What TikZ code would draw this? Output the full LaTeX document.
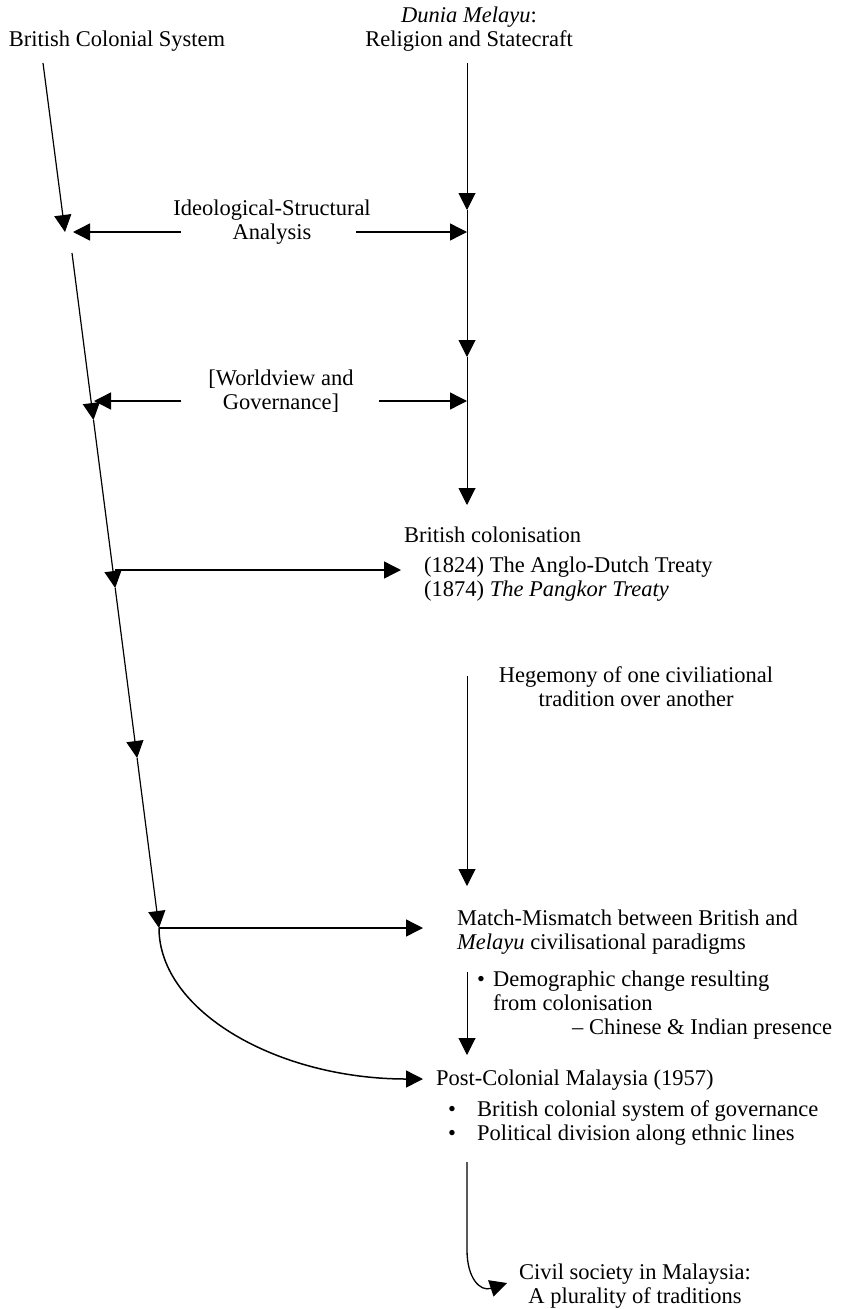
\documentclass[tikz,border=0pt]{standalone}
\usepackage{fontspec}
\setmainfont{Liberation Serif}
\usetikzlibrary{arrows.meta,calc}
\begin{document}
\begin{tikzpicture}[x=1pt,y=-1pt,
  txt/.style={inner sep=0pt, font=\fontsize{22.5}{24}\selectfont},
  arr/.style={-{Triangle[length=17pt,width=17pt]}, line width=1.2pt},
  harr/.style={arr, line width=1.4pt},
  varr/.style={arr, line width=1pt}]
\useasboundingbox (0,0) rectangle (845,1309);

% text nodes (for multi-line nodes the base anchor is the last line's baseline)
\node[txt, anchor=base] (bcs) at (117,46.5) {British Colonial System};
\node[txt, anchor=base, align=center] (dm) at (469,46.5) {\textit{Dunia Melayu}:\\Religion and Statecraft};
\node[txt, anchor=base, align=center] (isa) at (272,239.5) {Ideological-Structural\\Analysis};
\node[txt, anchor=base, align=center] (wg) at (281,409.5) {[Worldview and\\Governance]};
\node[txt, anchor=base west] (bc) at (404,542.5) {British colonisation};
\node[txt, anchor=base west, align=left] (tr) at (424,596) {(1824) The Anglo-Dutch Treaty\\(1874) \textit{The Pangkor Treaty}};
\node[txt, anchor=base, align=center] (heg) at (636,706.5) {Hegemony of one civiliational\\tradition over another};
\node[txt, anchor=base west, align=left] (mm) at (457,949.5) {Match-Mismatch between British and\\\textit{Melayu} civilisational paradigms};
\node[txt, anchor=base west, align=left] (dem) at (477,1034.5) {\makebox[16pt][l]{•}Demographic change resulting\\\hspace*{16pt}from colonisation\\\hspace*{95pt}– Chinese \& Indian presence};
\node[txt, anchor=base west] (pcm) at (436,1085.5) {Post-Colonial Malaysia (1957)};
\node[txt, anchor=base west, align=left] (pcb) at (448,1140.5) {\makebox[29pt][l]{•}British colonial system of governance\\\makebox[29pt][l]{•}Political division along ethnic lines};
\node[txt, anchor=base, align=center] (cs) at (635,1303) {Civil society in Malaysia:\\A plurality of traditions};

% left line points
\coordinate (L0) at (43,63);
\coordinate (L1) at (65,232);
\coordinate (L2) at (72,253);
\coordinate (L3) at (93.5,420);
\coordinate (L4) at (115.2,588);
\coordinate (L5) at (137.1,758);
\coordinate (L6) at (159,928);

% right line points
\coordinate (R0) at (467,63);
\coordinate (R1) at (467,210);
\coordinate (R2) at (467,357);
\coordinate (R3) at (467,505);
\coordinate (H0) at (467,676);
\coordinate (H1) at (467,886);
\coordinate (D0) at (467,972);
\coordinate (D1) at (467,1055);
\coordinate (P0) at (467,1162);
\coordinate (P1) at (467,1250);
\coordinate (P2) at (507,1283);

% label arrow ends
\coordinate (isaL) at (181,232);
\coordinate (isaLt) at (73,232);
\coordinate (isaR) at (356,232);
\coordinate (isaRt) at (467,232);
\coordinate (wgL) at (181,401);
\coordinate (wgLt) at (94,401);
\coordinate (wgR) at (379,401);
\coordinate (wgRt) at (467,401);
\coordinate (bcS) at (115,570);
\coordinate (bcT) at (401,570);
\coordinate (mmT) at (423,928);
\coordinate (pcT) at (423,1079);

% left line
\draw[arr] (L0) -- (L1);
\draw[arr] (L2) -- (L3);
\draw[arr] (L3) -- (L4);
\draw[arr] (L4) -- (L5);
\draw[arr] (L5) -- (L6);

% right line
\draw[varr] (R0) -- (R1);
\draw[varr] (R1) -- (R2);
\draw[varr] (R2) -- (R3);
\draw[varr] (H0) -- (H1);
\draw[varr] (D0) -- (D1);
\draw[arr, line width=1.3pt] (P0) -- (P1) .. controls (467,1278) and (480,1292) .. (P2);

% horizontal arrows
\draw[harr] (isaL) -- (isaLt);
\draw[harr] (isaR) -- (isaRt);
\draw[harr] (wgL) -- (wgLt);
\draw[harr] (wgR) -- (wgRt);
\draw[harr] (bcS) -- (bcT);
\draw[harr] (L6) -- (mmT);
\draw[arr, line width=1.5pt] (L6) .. controls (159,1011) and (277,1079) .. (pcT);
\end{tikzpicture}
\end{document}
